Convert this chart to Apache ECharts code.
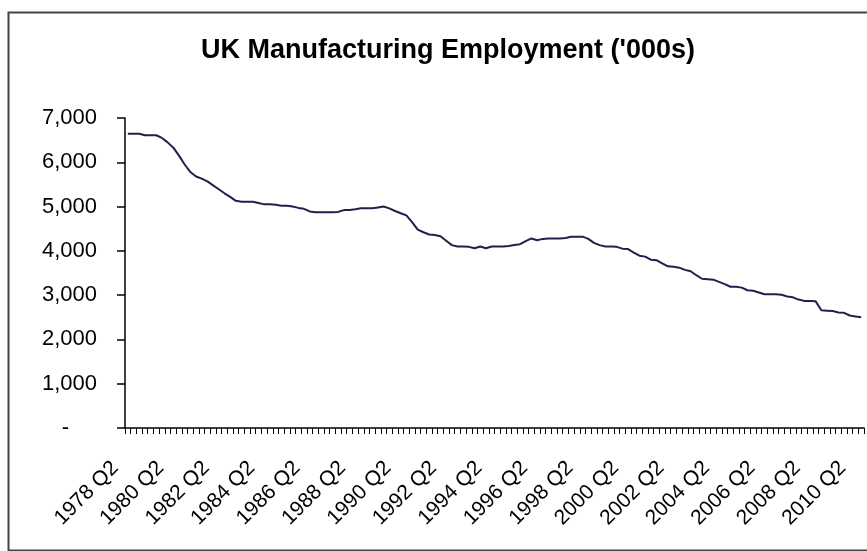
<!DOCTYPE html>
<html>
<head>
<meta charset="utf-8">
<script src="https://cdn.jsdelivr.net/npm/echarts@6/dist/echarts.min.js"></script>
<style>
html,body{margin:0;padding:0;background:#fff;}
#chart{width:867px;height:551px;}
</style>
</head>
<body>
<div id="chart"></div>
<script>
// Quarterly categories: 1978 Q2 ... 2010 Q3
var startYear = 1978, startQuarter = 2, quarterCount = 130;
var categories = [];
for (var k = 0; k < quarterCount; k++) {
  var q = startQuarter - 1 + k;
  categories.push((startYear + Math.floor(q / 4)) + ' Q' + (q % 4 + 1));
}

// UK manufacturing employment ('000s)
var employment = [
  6645, 6645, 6645, 6610, 6610, 6610, 6550, 6450, 6330, 6150,
  5950, 5780, 5680, 5630, 5570, 5480, 5390, 5300, 5220, 5130,
  5110, 5110, 5110, 5080, 5050, 5050, 5040, 5020, 5020, 5000,
  4970, 4950, 4890, 4870, 4870, 4870, 4870, 4880, 4920, 4925,
  4940, 4960, 4960, 4960, 4980, 5000, 4960, 4900, 4850, 4800,
  4650, 4480, 4420, 4370, 4360, 4330, 4230, 4130, 4100, 4100,
  4090, 4060, 4100, 4060, 4100, 4100, 4100, 4110, 4130, 4150,
  4220, 4280, 4240, 4270, 4280, 4280, 4280, 4290, 4320, 4320,
  4320, 4270, 4180, 4130, 4100, 4100, 4090, 4050, 4040, 3960,
  3890, 3870, 3800, 3790, 3720, 3650, 3640, 3620, 3570, 3540,
  3450, 3370, 3360, 3350, 3300, 3250, 3190, 3190, 3170, 3110,
  3100, 3060, 3020, 3020, 3020, 3010, 2970, 2950, 2900, 2870,
  2870, 2860, 2660, 2650, 2640, 2610, 2600, 2540, 2520, 2500
];

var yMin = 0, yMax = 7000, yStep = 1000;
var titleText = "UK Manufacturing Employment ('000s)";

var chart = echarts.init(document.getElementById('chart'), null, {renderer: 'canvas'});
chart.setOption({
  animation: false,
  backgroundColor: '#fff',
  graphic: [{
    type: 'rect',
    left: 6, top: 10,
    shape: {width: 880, height: 538},
    style: {fill: 'none', stroke: '#444', lineWidth: 2},
    silent: true
  }],
  title: {
    text: titleText,
    left: 443,
    textAlign: 'center',
    top: 32,
    textStyle: {fontFamily: 'Liberation Sans, Arial, sans-serif', fontWeight: 'bold', fontSize: 27, color: '#000'}
  },
  grid: {left: 125, right: 3, top: 118, bottom: 123, containLabel: false},
  xAxis: {
    type: 'category',
    data: categories,
    boundaryGap: true,
    axisLine: {lineStyle: {color: '#000', width: 1.5}},
    axisTick: {show: true, interval: 0, length: 6, inside: false, lineStyle: {color: '#000', width: 1}},
    axisLabel: {
      interval: 7,
      rotate: 45,
      margin: 24,
      padding: [0, 18, 0, 0],
      color: '#000',
      fontFamily: 'Liberation Sans, Arial, sans-serif',
      fontSize: 21
    },
    splitLine: {show: false}
  },
  yAxis: {
    type: 'value',
    min: yMin, max: yMax, interval: yStep,
    axisLine: {show: true, lineStyle: {color: '#000', width: 1.5}},
    axisTick: {show: true, length: 8, inside: false, lineStyle: {color: '#000', width: 1.5}},
    axisLabel: {
      margin: 28,
      color: '#000',
      fontFamily: 'Liberation Sans, Arial, sans-serif',
      fontSize: 22,
      formatter: function (v) {
        if (v === 0) return '{d|-}';
        return v.toLocaleString('en-US');
      },
      rich: {d: {padding: [0, 28, 0, 0], fontSize: 22, color: '#000', fontFamily: 'Liberation Sans, Arial, sans-serif'}}
    },
    splitLine: {show: false}
  },
  series: [{
    type: 'line',
    data: employment,
    symbol: 'none',
    lineStyle: {color: '#20204e', width: 2},
    step: false
  }]
});
</script>
</body>
</html>
